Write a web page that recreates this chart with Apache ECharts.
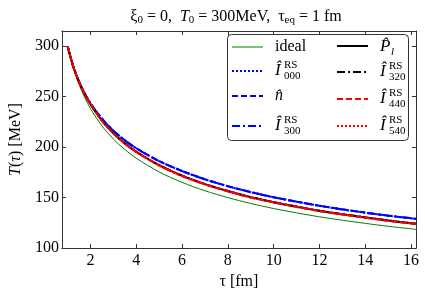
<!DOCTYPE html>
<html><head><meta charset="utf-8">
<script src="https://cdn.jsdelivr.net/npm/echarts@6/dist/echarts.min.js"></script>
<style>html,body{margin:0;padding:0;background:#fff}#c{width:425px;height:295px}</style>
</head><body><div id="c"></div>
<script>
// ---- data ----
const tau   = [1, 1.25, 1.5, 1.75, 2, 2.5, 3, 3.5, 4, 5, 6, 7, 8, 9, 10, 11, 12, 13, 14, 15, 16, 16.25];
const idealT = [300, 278.5, 262.1, 248.9, 238.1, 221.0, 208.0, 197.6, 189.0, 175.4, 165.1, 156.8, 150.0, 144.2, 139.2, 134.9, 131.0, 127.6, 124.5, 121.6, 119.1, 118.4];
const i000T  = [300, 279.6, 264.7, 252.9, 243.3, 228.1, 216.3, 206.7, 198.8, 186.1, 176.3, 168.1, 161.3, 155.4, 150.3, 146.0, 141.9, 138.3, 135.1, 132.1, 129.5, 128.7];
const nHatT  = [300, 279.6, 264.7, 252.9, 243.3, 228.1, 216.3, 206.8, 198.9, 186.2, 176.4, 168.2, 161.4, 155.5, 150.4, 146.1, 142.0, 138.4, 135.2, 132.2, 129.6, 128.8];
const i300T  = [300, 279.6, 264.7, 252.9, 243.3, 228.1, 216.3, 206.7, 198.8, 186.1, 176.3, 168.1, 161.3, 155.4, 150.3, 146.0, 141.9, 138.3, 135.1, 132.1, 129.5, 128.7];
const plT    = [300, 279.6, 264.5, 252.4, 242.4, 226.3, 213.8, 203.7, 195.4, 182.1, 171.7, 163.4, 156.5, 150.5, 145.5, 141.1, 137.0, 133.6, 130.4, 127.3, 124.7, 124.0];
const i320T  = [300, 279.6, 264.5, 252.4, 242.4, 226.3, 213.8, 203.7, 195.4, 182.1, 171.7, 163.4, 156.5, 150.5, 145.5, 141.1, 137.0, 133.6, 130.4, 127.3, 124.7, 124.0];
const i440T  = [300, 279.6, 264.5, 252.3, 242.3, 226.1, 213.6, 203.5, 195.1, 181.8, 171.4, 163.1, 156.2, 150.2, 145.2, 140.8, 136.7, 133.3, 130.1, 127.0, 124.4, 123.7];
const i540T  = [300, 279.6, 264.5, 252.3, 242.3, 226.1, 213.6, 203.5, 195.1, 181.8, 171.4, 163.1, 156.2, 150.2, 145.2, 140.8, 136.7, 133.3, 130.1, 127.0, 124.4, 123.7];
const xTicks = [2, 4, 6, 8, 10, 12, 14, 16];
const yTicks = [100, 150, 200, 250, 300];

const SERIF = '"Liberation Serif", "DejaVu Serif", serif';
const pairs = arr => tau.map((t, i) => [t, arr[i]]);

const seriesDefs = [
  {name: 'ideal', data: idealT, color: '#008000', width: 1, dash: 'solid'},
  {name: 'I000', data: i000T, color: '#0000ff', width: 2, dash: [2, 2]},
  {name: 'n', data: nHatT, color: '#0000ff', width: 2, dash: [6, 3]},
  {name: 'I300', data: i300T, color: '#0000ff', width: 2, dash: [8, 3, 2, 3]},
  {name: 'Pl', data: plT, color: '#000000', width: 2, dash: 'solid'},
  {name: 'I320', data: i320T, color: '#000000', width: 2, dash: [8, 3, 2, 3]},
  {name: 'I440', data: i440T, color: '#ff0000', width: 2, dash: [6, 3]},
  {name: 'I540', data: i540T, color: '#ff0000', width: 2, dash: [2, 2]}
];

const axisCol = '#333';
const baseX = {
  type: 'value', min: 0.75, max: 16.22,
  axisLine: {show: true, onZero: false, lineStyle: {color: axisCol, width: 1}},
  splitLine: {show: false},
  axisTick: {show: true, inside: true, length: 4, customValues: xTicks, lineStyle: {color: axisCol}},
  axisLabel: {show: true, customValues: xTicks, margin: 5, color: '#000', fontFamily: SERIF, fontSize: 16}
};
const baseY = {
  type: 'value', min: 100, max: 315,
  axisLine: {show: true, onZero: false, lineStyle: {color: axisCol, width: 1}},
  splitLine: {show: false},
  axisTick: {show: true, inside: true, length: 4, customValues: yTicks, lineStyle: {color: axisCol}},
  axisLabel: {show: true, customValues: yTicks, margin: 3, color: '#000', fontFamily: SERIF, fontSize: 16}
};

const chart = echarts.init(document.getElementById('c'), null, {renderer: 'canvas'});

// legend built from graphic elements (hat / sub / superscript notation)
function txt(x, y, text, font, align) {
  return {type: 'text', x: x, y: y, z: 101, style: {text: text, font: font, fill: '#000', align: align || 'left', verticalAlign: 'middle'}};
}
function hatI(x, y, sub) {
  return [
    txt(x, y, 'Î', 'italic 17px ' + SERIF),
    txt(x + 9, y - 6, 'RS', '11px ' + SERIF),
    txt(x + 9, y + 5, sub, '11px ' + SERIF)
  ];
}
function sample(x1, x2, y, def) {
  return {type: 'line', z: 101, shape: {x1: x1, y1: y, x2: x2, y2: y},
    style: {stroke: def.color, lineWidth: def.width, lineDash: def.dash === 'solid' ? null : def.dash}};
}
const c1a = 232, c1b = 263, c1t = 275, c2a = 337, c2b = 368, c2t = 380;
const rows1 = [47, 71, 96, 126], rows2 = [46, 72, 99, 126];
const legendEls = [
  {type: 'rect', z: 100, shape: {x: 227.5, y: 34.5, width: 181, height: 106, r: 4},
   style: {fill: 'rgba(255,255,255,0.85)', stroke: '#333', lineWidth: 1}},
  sample(c1a, c1b, rows1[0], seriesDefs[0]),
  sample(c1a, c1b, rows1[1], seriesDefs[1]),
  sample(c1a, c1b, rows1[2], seriesDefs[2]),
  sample(c1a, c1b, rows1[3], seriesDefs[3]),
  sample(c2a, c2b, rows2[0], seriesDefs[4]),
  sample(c2a, c2b, rows2[1], seriesDefs[5]),
  sample(c2a, c2b, rows2[2], seriesDefs[6]),
  sample(c2a, c2b, rows2[3], seriesDefs[7]),
  txt(c1t, rows1[0], 'ideal', '16px ' + SERIF),
  ...hatI(c1t, rows1[1], '000'),
  txt(c1t, rows1[2], 'n\u0302', 'italic 16px ' + SERIF),
  ...hatI(c1t, rows1[3], '300'),
  txt(c2t, rows2[0] + 1, 'P\u0302', 'italic 17px ' + SERIF),
  txt(c2t + 11, rows2[0] + 6, 'l', 'italic 11px ' + SERIF),
  ...hatI(c2t, rows2[1], '320'),
  ...hatI(c2t, rows2[2], '440'),
  ...hatI(c2t, rows2[3], '540')
];

chart.setOption({
  animation: false,
  backgroundColor: '#fff',
  title: {
    text: '{g|ξ}{s|0}{r| = 0,  }{i|T}{s|0}{r| = 300MeV,  }{g|τ}{s|eq}{r| = 1 fm}',
    left: 231, top: 3, textAlign: 'center',
    textStyle: {
      fontFamily: SERIF, fontSize: 16, fontWeight: 'normal', color: '#000',
      rich: {
        g: {fontFamily: SERIF, fontSize: 16, lineHeight: 18, verticalAlign: 'middle'},
        r: {fontFamily: SERIF, fontSize: 16, lineHeight: 18, verticalAlign: 'middle'},
        i: {fontFamily: SERIF, fontSize: 16, fontStyle: 'italic', lineHeight: 18, verticalAlign: 'middle'},
        s: {fontFamily: SERIF, fontSize: 11, lineHeight: 11, verticalAlign: 'bottom', padding: [6, 0, 0, 0]}
      }
    }
  },
  grid: {left: 56, right: 9, top: 31, bottom: 45, containLabel: false},
  xAxis: [
    Object.assign({}, baseX, {position: 'bottom', name: '{g|τ} [fm]', nameLocation: 'middle', nameGap: 25,
      nameTextStyle: {fontFamily: SERIF, fontSize: 16, color: '#000',
        rich: {g: {fontFamily: SERIF, fontSize: 16}}}}),
    Object.assign({}, baseX, {position: 'top', axisLabel: {show: false}})
  ],
  yAxis: [
    Object.assign({}, baseY, {position: 'left', name: '{i|T}({i|τ}) [MeV]', nameLocation: 'middle', nameGap: 34, nameRotate: 90,
      nameTextStyle: {fontFamily: SERIF, fontSize: 16, color: '#000',
        rich: {i: {fontFamily: SERIF, fontSize: 16, fontStyle: 'italic'}}}}),
    Object.assign({}, baseY, {position: 'right', axisLabel: {show: false}})
  ],
  series: seriesDefs.map((d, k) => ({
    name: d.name, type: 'line', xAxisIndex: 0, yAxisIndex: 0,
    data: pairs(d.data), showSymbol: false, smooth: 0.3, clip: true, z: 2 + k,
    lineStyle: {color: d.color, width: d.width, type: d.dash},
    itemStyle: {color: d.color}
  })),
  graphic: legendEls
});
</script>
</body></html>
